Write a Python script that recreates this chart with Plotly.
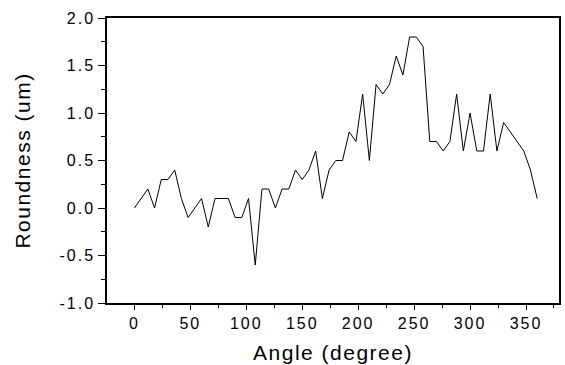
import plotly.graph_objects as go

angle = [0, 6, 12, 18, 24, 30, 36, 42, 48, 54, 60, 66, 72, 78, 84, 90, 96, 102, 108, 114,
         120, 126, 132, 138, 144, 150, 156, 162, 168, 174, 180, 186, 192, 198, 204, 210,
         216, 222, 228, 234, 240, 246, 252, 258, 264, 270, 276, 282, 288, 294, 300, 306,
         312, 318, 324, 330, 336, 342, 348, 354, 360]
roundness = [0, 0.1, 0.2, 0, 0.3, 0.3, 0.4, 0.1, -0.1, 0, 0.1, -0.2, 0.1, 0.1, 0.1, -0.1, -0.1,
             0.1, -0.6, 0.2, 0.2, 0, 0.2, 0.2, 0.4, 0.3, 0.4, 0.6, 0.1, 0.4, 0.5, 0.5, 0.8, 0.7,
             1.2, 0.5, 1.3, 1.2, 1.3, 1.6, 1.4, 1.8, 1.8, 1.7, 0.7, 0.7, 0.6, 0.7, 1.2, 0.6, 1.0,
             0.6, 0.6, 1.2, 0.6, 0.9, 0.8, 0.7, 0.6, 0.4, 0.1]

x_ticks = [0, 50, 100, 150, 200, 250, 300, 350]
y_ticks = [-1.0, -0.5, 0.0, 0.5, 1.0, 1.5, 2.0]
y_ticklabels = ["-1.0", "-0.5", "0.0", "0.5", "1.0", "1.5", "2.0"]

font = "Liberation Sans, Arial, sans-serif"

fig = go.Figure()
fig.add_trace(go.Scatter(x=angle, y=roundness, mode="lines",
                         line=dict(color="black", width=1), showlegend=False))

fig.update_layout(
    width=565, height=365,
    margin=dict(l=107, r=4, t=18, b=61),
    paper_bgcolor="white", plot_bgcolor="white",
    font=dict(family=font, color="black"),
    xaxis=dict(
        range=[-24.5, 379.5], tickmode="array", tickvals=x_ticks,
        ticktext=[str(v) for v in x_ticks],
        ticks="outside", ticklen=5, tickwidth=1.2, tickcolor="black",
        minor=dict(dtick=25, tick0=-25, ticks="outside", ticklen=3, tickwidth=1.2, tickcolor="black"),
        showline=True, linecolor="black", linewidth=1.5, mirror=True,
        showgrid=False, zeroline=False,
        tickfont=dict(size=16, family=font),
        title=dict(text="Angle (degree)", font=dict(size=21, family=font), standoff=14),
    ),
    yaxis=dict(
        range=[-1, 2], tickmode="array", tickvals=y_ticks, ticktext=y_ticklabels,
        ticks="outside", ticklen=7, tickwidth=1.2, tickcolor="black",
        minor=dict(dtick=0.25, tick0=0, ticks="outside", ticklen=4, tickwidth=1.2, tickcolor="black"),
        showline=True, linecolor="black", linewidth=1.5, mirror=True,
        showgrid=False, zeroline=False,
        tickfont=dict(size=16, family=font),
        title=dict(text="Roundness (um)", font=dict(size=21, family=font), standoff=31),
    ),
)

post = """
document.querySelectorAll('.xtick text, .ytick text').forEach(function(t){t.style.letterSpacing='2px';});
document.querySelectorAll('.g-xtitle text, .g-ytitle text').forEach(function(t){t.style.letterSpacing='1.5px';});
"""

fig.write_html("out.html", post_script=post)
